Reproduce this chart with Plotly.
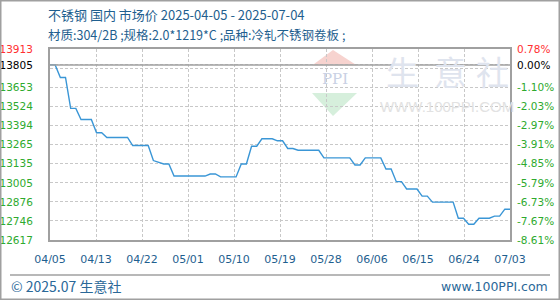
import plotly.graph_objects as go
import pandas as pd

# ---------------- data ----------------
start_date = "2025-04-05"
prices = [
    13805, 13805, 13720, 13720, 13510, 13510, 13435, 13435, 13435, 13345,
    13345, 13313, 13313, 13313, 13313, 13313, 13258, 13258, 13258, 13258,
    13156, 13145, 13133, 13133, 13051, 13051, 13051, 13051, 13051, 13051,
    13051, 13065, 13065, 13045, 13045, 13045, 13045, 13133, 13133, 13253,
    13253, 13304, 13304, 13304, 13290, 13290, 13238, 13238, 13226, 13226,
    13226, 13226, 13226, 13174, 13174, 13174, 13174, 13174, 13174, 13126,
    13126, 13174, 13174, 13174, 13174, 13099, 13099, 13013, 13013, 12963,
    12963, 12963, 12915, 12915, 12874, 12874, 12874, 12874, 12874, 12765,
    12765, 12724, 12724, 12765, 12765, 12765, 12779, 12779, 12826, 12826,
]
base_price = 13805
y_min, y_max = 12617, 13913
left_tick_values = [13913, 13805, 13783, 13653, 13524, 13394, 13265, 13135, 13005, 12876, 12746, 12617]
left_tick_labels = ["13913", "13805", "", "13653", "13524", "13394", "13265", "13135", "13005", "12876", "12746", "12617"]
right_tick_labels = ["0.78%", "0.00%", "", "-1.10%", "-2.03%", "-2.97%", "-3.91%", "-4.85%", "-5.79%", "-6.73%", "-7.67%", "-8.61%"]
n_x_ticks = 10

title_line1 = "不锈钢 国内 市场价 2025-04-05 - 2025-07-04"
title_line2 = "材质:304/2B ;规格:2.0*1219*C ;品种:冷轧不锈钢卷板 ;"
footer_left = "© 2025.07 生意社"
footer_right = "www.100PPI.com"

# ---------------- styles ----------------
RED = "#ff3030"
GREEN = "#2eaa2e"
BLACK = "#000000"
BLUE_TXT = "#1f5f8f"
LINE = "#3a96d6"
GRID = "#c8c8c8"
AXIS = "#a0a0a0"
CJK = "Noto Sans CJK SC"
NUM = "DejaVu Sans"

W, H = 560, 300
L, R, T, B = 50, 50, 49, 60
PW, PH = W - L - R, H - T - B


def px(x):
    return (x - L) / PW


def py(y):
    return (H - B - y) / PH


def color_for(i):
    if i == 0:
        return RED
    if i == 1:
        return BLACK
    return GREEN


left_text = [f'<span style="color:{color_for(i)}">{t}</span>' if t else "" for i, t in enumerate(left_tick_labels)]
right_text = [f'<span style="color:{color_for(i)}">{t}</span>' if t else "" for i, t in enumerate(right_tick_labels)]

dates = pd.date_range(start_date, periods=len(prices), freq="D")
t0, t1 = dates[0], dates[-1]
x_tick_vals = [t0 + (t1 - t0) * k / n_x_ticks for k in range(n_x_ticks + 1)]
x_tick_text = [d.strftime("%m/%d") for d in x_tick_vals]

fig = go.Figure()
fig.add_trace(go.Scatter(x=dates, y=prices, mode="lines",
                         line=dict(color=LINE, width=1.4), hoverinfo="skip",
                         showlegend=False))
fig.add_trace(go.Scatter(x=dates, y=prices, mode="lines", yaxis="y2",
                         line=dict(color="rgba(0,0,0,0)", width=0), hoverinfo="skip",
                         showlegend=False))

shapes = []
# watermark triangles
shapes.append(dict(type="path", xref="paper", yref="paper", layer="below",
                   path=f"M {px(333)} {py(50)} L {px(357)} {py(65.5)} L {px(312)} {py(65.5)} Z",
                   fillcolor="#f7d3cf", line=dict(width=0)))
shapes.append(dict(type="path", xref="paper", yref="paper", layer="below",
                   path=f"M {px(312)} {py(93)} L {px(357)} {py(93)} L {px(333)} {py(116)} Z",
                   fillcolor="#d6efdc", line=dict(width=0)))
# reference line at base price
shapes.append(dict(type="line", xref="paper", yref="y", x0=0, x1=1, y0=base_price, y1=base_price,
                   line=dict(color=AXIS, width=1.5)))
# footer separator
shapes.append(dict(type="line", xref="paper", yref="paper", x0=px(10), x1=px(550), y0=py(275), y1=py(275),
                   line=dict(color=AXIS, width=1.5)))
# outer border
shapes.append(dict(type="rect", xref="paper", yref="paper", x0=px(0.75), x1=px(559.25), y0=py(0.75), y1=py(299.25),
                   line=dict(color=AXIS, width=1.5)))

annotations = []
annotations.append(dict(text="PPI", x=px(335), y=py(79), xref="paper", yref="paper", showarrow=False,
                        font=dict(family="DejaVu Serif", size=15, color="#c9d1e4"), xanchor="center", yanchor="middle"))
for ch, cx in zip("生意社", [402, 450, 492]):
    annotations.append(dict(text=ch, x=px(cx), y=py(71), xref="paper", yref="paper", showarrow=False,
                            font=dict(family=CJK, size=33, color="#dfe4ee"), xanchor="center", yanchor="middle"))
annotations.append(dict(text="WWW.100PPI.COM", x=px(447), y=py(106.5), xref="paper", yref="paper", showarrow=False,
                        font=dict(family="Liberation Sans", size=15, color="#e2e2e2"), xanchor="center", yanchor="middle"))
annotations.append(dict(text=title_line1, x=px(46), y=py(15), xref="paper", yref="paper", showarrow=False,
                        font=dict(family=CJK, size=13, color=BLUE_TXT), xanchor="left", yanchor="middle"))
annotations.append(dict(text=title_line2, x=px(46), y=py(34), xref="paper", yref="paper", showarrow=False,
                        font=dict(family=CJK, size=12.5, color=BLUE_TXT), xanchor="left", yanchor="middle"))
annotations.append(dict(text=footer_left, x=px(9), y=py(286), xref="paper", yref="paper", showarrow=False,
                        font=dict(family=CJK, size=14, color="#2a6898"), xanchor="left", yanchor="middle"))
annotations.append(dict(text=footer_right, x=px(550), y=py(286), xref="paper", yref="paper", showarrow=False,
                        font=dict(family=NUM, size=12.5, color="#2a6898"), xanchor="right", yanchor="middle"))

fig.update_layout(
    width=W, height=H,
    margin=dict(l=L, r=R, t=T, b=B, pad=0, autoexpand=False),
    paper_bgcolor="white", plot_bgcolor="white",
    showlegend=False,
    shapes=shapes,
    annotations=annotations,
    xaxis=dict(type="date", range=[t0, t1], tickmode="array", tickvals=x_tick_vals, ticktext=x_tick_text,
               showgrid=True, gridcolor=GRID, gridwidth=1, griddash="3px,2px",
               showline=True, mirror=True, linecolor=AXIS, linewidth=2,
               ticks="", ticklabelstandoff=8, automargin=False,
               tickfont=dict(family=NUM, size=11, color=BLUE_TXT), zeroline=False, fixedrange=True),
    yaxis=dict(range=[y_min, y_max], tickmode="array", tickvals=left_tick_values, ticktext=left_text,
               showgrid=True, gridcolor=GRID, gridwidth=1, griddash="3px,2px",
               showline=True, mirror=True, linecolor=AXIS, linewidth=2,
               ticks="", ticklabelstandoff=13, automargin=False,
               tickfont=dict(family=NUM, size=10.5, color=GREEN), zeroline=False, fixedrange=True),
    yaxis2=dict(range=[y_min, y_max], overlaying="y", side="right", tickmode="array",
                tickvals=left_tick_values, ticktext=right_text, showgrid=False, showline=False,
                ticks="", ticklabelstandoff=6, automargin=False,
                tickfont=dict(family=NUM, size=10.5, color=GREEN), zeroline=False, fixedrange=True),
)

fig.write_html("out.html", config={"displayModeBar": False, "staticPlot": True})
